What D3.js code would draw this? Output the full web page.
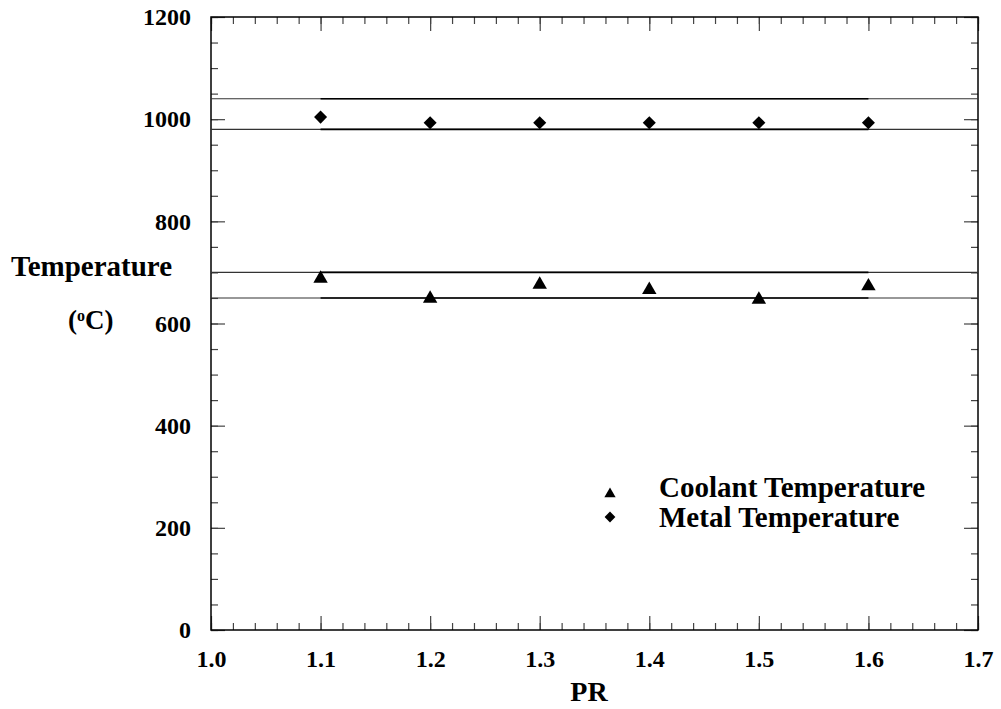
<!DOCTYPE html>
<html>
<head>
<meta charset="utf-8">
<script src="https://cdn.jsdelivr.net/npm/d3@7"></script>
<style>
body { margin: 0; background: #fff; }
svg text { font-family: 'Liberation Serif', 'Times New Roman', serif; font-weight: bold; fill: #000; }
.domain { display: none; }
</style>
</head>
<body>
<script>
// data
var pr = [1.1, 1.2, 1.3, 1.4, 1.5, 1.6];
var coolant = [688, 649, 676, 666, 647, 673];
var metal = [1004, 993, 993, 993, 993, 993];
var bands = [1040, 980, 700, 650];
var xTicks = [1.0, 1.1, 1.2, 1.3, 1.4, 1.5, 1.6, 1.7];
var yTicks = [0, 200, 400, 600, 800, 1000, 1200];

var W = 1001, H = 709;
var margin = {top: 17, right: 23, bottom: 79, left: 211};
var width = W - margin.left - margin.right,
    height = H - margin.top - margin.bottom;

var svg = d3.select("body").append("svg")
  .attr("width", W).attr("height", H);
var g = svg.append("g")
  .attr("transform", "translate(" + margin.left + "," + margin.top + ")");

var x = d3.scaleLinear().domain([1.0, 1.7]).range([0, width]);
var y = d3.scaleLinear().domain([0, 1200]).range([height, 0]);

var xMinor = d3.range(1.0, 1.7001, 0.02).map(function(v){ return +v.toFixed(2); });
var yMinor = d3.range(0, 1201, 50);

// minor ticks (inward) on all four sides
g.append("g").attr("transform", "translate(0," + height + ")")
  .call(d3.axisBottom(x).tickValues(xMinor).tickSize(-7).tickFormat(""));
g.append("g")
  .call(d3.axisTop(x).tickValues(xMinor).tickSize(-7).tickFormat(""));
g.append("g")
  .call(d3.axisLeft(y).tickValues(yMinor).tickSize(-7).tickFormat(""));
g.append("g").attr("transform", "translate(" + width + ",0)")
  .call(d3.axisRight(y).tickValues(yMinor).tickSize(-7).tickFormat(""));

// major ticks with labels
g.append("g").attr("transform", "translate(0," + height + ")")
  .call(d3.axisBottom(x).tickValues(xTicks).tickSize(-14).tickPadding(20)
        .tickFormat(d3.format(".1f")))
  .attr("font-family", null)
  .selectAll("text").style("font-size", "24px");
g.append("g")
  .call(d3.axisTop(x).tickValues(xTicks).tickSize(-14).tickFormat(""));
g.append("g")
  .call(d3.axisLeft(y).tickValues(yTicks).tickSize(-14).tickPadding(20)
        .tickFormat(d3.format("d")))
  .attr("font-family", null)
  .selectAll("text").style("font-size", "24px");
g.append("g").attr("transform", "translate(" + width + ",0)")
  .call(d3.axisRight(y).tickValues(yTicks).tickSize(-14).tickFormat(""));

g.selectAll(".tick line").attr("stroke", "#444").attr("stroke-width", 1.2);

// frame
g.append("rect").attr("width", width).attr("height", height)
  .attr("fill", "none").attr("stroke", "#000").attr("stroke-width", 1.5);

// reference lines: thin across the plot, heavier between first and last PR
g.selectAll(".band-thin").data(bands).enter().append("line")
  .attr("x1", x(1.0)).attr("x2", x(1.7))
  .attr("y1", function(d){ return y(d); }).attr("y2", function(d){ return y(d); })
  .attr("stroke", "#333").attr("stroke-width", 1.1);
g.selectAll(".band").data(bands).enter().append("line")
  .attr("x1", x(1.1)).attr("x2", x(1.6))
  .attr("y1", function(d){ return y(d); }).attr("y2", function(d){ return y(d); })
  .attr("stroke", "#000").attr("stroke-width", 1.6);

var tri = d3.symbol().type(d3.symbolTriangle).size(90);
var dia = d3.symbol().type(d3.symbolSquare).size(85);

g.selectAll(".cool").data(pr).enter().append("path")
  .attr("d", tri)
  .attr("transform", function(d, i){ return "translate(" + x(d) + "," + y(coolant[i]) + ")"; });
g.selectAll(".metal").data(pr).enter().append("path")
  .attr("d", dia)
  .attr("transform", function(d, i){ return "translate(" + x(d) + "," + y(metal[i]) + ") rotate(45)"; });

// legend
var leg = svg.append("g").attr("transform", "translate(610,0)");
leg.append("path").attr("d", d3.symbol().type(d3.symbolTriangle).size(55))
  .attr("transform", "translate(0,494)");
leg.append("text").attr("x", 49).attr("y", 497).style("font-size", "29px").text("Coolant Temperature");
leg.append("path").attr("d", d3.symbol().type(d3.symbolSquare).size(58))
  .attr("transform", "translate(0,517) rotate(45)");
leg.append("text").attr("x", 49).attr("y", 527).style("font-size", "29px").text("Metal Temperature");

// axis titles
svg.append("text").attr("x", 589).attr("y", 701)
  .attr("text-anchor", "middle").style("font-size", "28px").text("PR");
svg.append("text").attr("x", 11).attr("y", 276).style("font-size", "29px").text("Temperature");
var unit = svg.append("text").attr("x", 68).attr("y", 329).style("font-size", "27px");
unit.append("tspan").text("(");
unit.append("tspan").attr("dy", -8).style("font-size", "16px").text("o");
unit.append("tspan").attr("dy", 8).text("C)");
</script>
</body>
</html>
